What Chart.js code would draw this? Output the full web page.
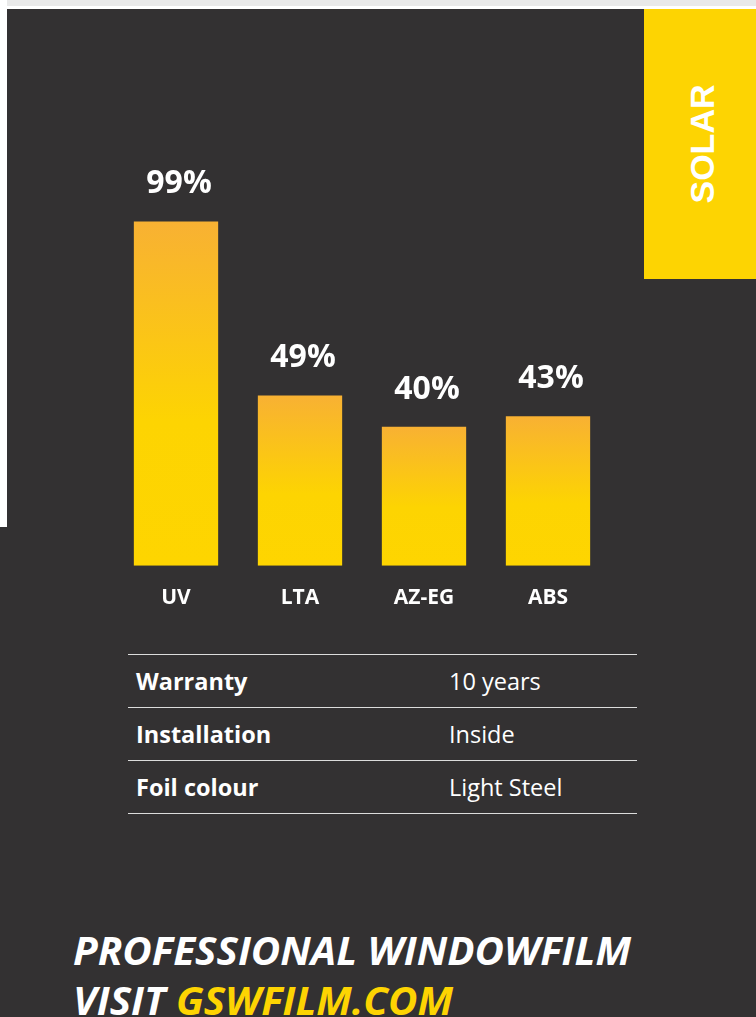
<!DOCTYPE html>
<html>
<head>
<meta charset="utf-8">
<script src="https://cdn.jsdelivr.net/npm/chart.js@4"></script>
<style>
  html, body { margin: 0; padding: 0; }
  body { width: 756px; height: 1017px; background: #333132; position: relative; overflow: hidden; font-family: "Open Sans", sans-serif; }
  .topstrip { position: absolute; left: 7px; top: 0; width: 749px; height: 6px; background: #e9e9e9; }
  .topwhite { position: absolute; left: 7px; top: 6px; width: 749px; height: 3px; background: #fff; }
  .leftwhite { position: absolute; left: 0; top: 0; width: 7px; height: 527px; background: #fff; }
  .solar { position: absolute; left: 644px; top: 9px; width: 112px; height: 270px; background: #fdd402; }
  .solar span { position: absolute; left: 58px; top: 135px; transform: translate(-50%, -50%) rotate(-90deg);
    font-family: "Liberation Sans", Arial, sans-serif; font-weight: bold; font-size: 34px; color: #fff; white-space: nowrap; }
  #chart { position: absolute; left: 114px; top: 120px; }
  .table { position: absolute; left: 128px; top: 654px; width: 509px; border-bottom: 1px solid #dcdcdc; }
  .row { height: 52px; line-height: 53px; border-top: 1px solid #dcdcdc; color: #fff; font-size: 23.5px; position: relative; }
  .row b { position: absolute; left: 8px; font-weight: 700; }
  .row span { position: absolute; left: 321px; font-weight: 400; }
  .footer { position: absolute; left: 73px; color: #fff; font-weight: 700; font-style: italic; font-size: 40px; white-space: nowrap; transform-origin: 0 0; }
  .footer em { color: #fdd402; font-style: italic; }
</style>
</head>
<body>
<div class="topstrip"></div>
<div class="topwhite"></div>
<div class="leftwhite"></div>
<div class="solar"><span>SOLAR</span></div>
<canvas id="chart" width="496" height="510"></canvas>
<div class="table" id="specs"></div>
<div class="footer" id="f1" style="top: 922px;">PROFESSIONAL WINDOWFILM</div>
<div class="footer" id="f2" style="top: 972px;">VISIT <em>GSWFILM.COM</em></div>
<script>
const categories = ["UV", "LTA", "AZ-EG", "ABS"];
const values = [99, 49, 40, 43];
const specLabels = ["Warranty", "Installation", "Foil colour"];
const specValues = ["10 years", "Inside", "Light Steel"];

// spec table
const specs = document.getElementById("specs");
specLabels.forEach((label, i) => {
  const row = document.createElement("div");
  row.className = "row";
  row.innerHTML = "<b>" + label + "</b><span>" + specValues[i] + "</span>";
  specs.appendChild(row);
});

// squeeze footer lines to the reference width
function fitWidth(id, target) {
  const el = document.getElementById(id);
  const w = el.getBoundingClientRect().width;
  el.style.transform = "scaleX(" + (target / w) + ")";
}
fitWidth("f1", 558);
fitWidth("f2", 380);

function barGradient(context) {
  const chart = context.chart;
  const yScale = chart.scales.y;
  if (!chart.chartArea || !yScale) return "#fdd402";
  const top = yScale.getPixelForValue(values[context.dataIndex]);
  const bottom = yScale.getPixelForValue(0);
  const g = chart.ctx.createLinearGradient(0, top, 0, bottom);
  g.addColorStop(0, "#f8b133");
  g.addColorStop(0.58, "#fdd402");
  g.addColorStop(1, "#fed500");
  return g;
}

const valueLabels = {
  id: "valueLabels",
  afterDatasetsDraw(chart) {
    const ctx = chart.ctx;
    const meta = chart.getDatasetMeta(0);
    ctx.save();
    ctx.fillStyle = "#ffffff";
    ctx.font = "bold 32px 'Open Sans'";
    ctx.textAlign = "center";
    ctx.textBaseline = "alphabetic";
    meta.data.forEach((bar, i) => {
      ctx.fillText(values[i] + "%", bar.x + 3, bar.y - 28);
    });
    ctx.restore();
  }
};

const solarChart = new Chart(document.getElementById("chart").getContext("2d"), {
  type: "bar",
  data: {
    labels: categories,
    datasets: [
      {
        data: values,
        backgroundColor: barGradient,
        borderWidth: 0,
        barPercentage: 0.68,
        categoryPercentage: 1,
      },
    ],
  },
  options: {
    responsive: false,
    animation: false,
    devicePixelRatio: 1,
    layout: { padding: { top: 98, left: 0, right: 0, bottom: 0 } },
    plugins: { legend: { display: false }, tooltip: { enabled: false } },
    scales: {
      x: {
        grid: { display: false, drawTicks: false },
        border: { display: false },
        ticks: {
          color: "#ffffff",
          padding: 19.5,
          font: { family: "'Open Sans'", size: 21, weight: "bold" },
        },
      },
      y: { display: false, min: 0, max: 100 },
    },
  },
  plugins: [valueLabels],
});
</script>
</body>
</html>
